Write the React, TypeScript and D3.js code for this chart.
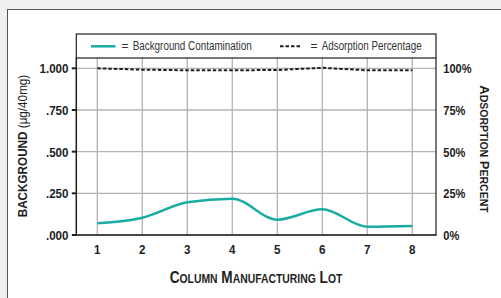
import React from "react";
import * as d3 from "d3";

const lots = [1, 2, 3, 4, 5, 6, 7, 8];
const background = [0.07, 0.104, 0.196, 0.218, 0.092, 0.154, 0.05, 0.054];
const adsorption = [100, 99.2, 98.8, 98.8, 99.0, 100.3, 98.8, 98.8];
const leftTicks = [0, 0.25, 0.5, 0.75, 1.0];
const leftTickLabels = [".000", ".250", ".500", ".750", "1.000"];
const rightTicks = [0, 25, 50, 75, 100];
const rightTickLabels = ["0%", "25%", "50%", "75%", "100%"];

const FONT = "'Liberation Sans', Arial, sans-serif";
const TEAL = "#1aaba2";
const INK = "#1e1e1e";

function CText(props: {
  x: number;
  y: number;
  sx?: number;
  rot?: number;
  anchor?: string;
  size?: number;
  bold?: boolean;
  fill?: string;
  dy?: string;
  children: React.ReactNode;
}) {
  const { x, y, sx = 0.85, rot = 0, anchor = "start", size = 12.5, bold = true, fill = INK, dy } = props;
  return (
    <text
      transform={`translate(${x},${y}) rotate(${rot}) scale(${sx},1)`}
      textAnchor={anchor}
      dy={dy}
      fontFamily={FONT}
      fontWeight={bold ? "bold" : "normal"}
      fontSize={size}
      fill={fill}
    >
      {props.children}
    </text>
  );
}

export default function App() {
  const W = 501, H = 298;
  const plotL = 76.3, plotR = 436, plotT = 58, plotB = 235;
  const x = d3.scaleLinear().domain([1, 8]).range([97.3, 412.3]);
  const yL = d3.scaleLinear().domain([0, 1]).range([plotB, 68.3]);
  const yR = d3.scaleLinear().domain([0, 100]).range([plotB, 68.3]);

  const bgLine = d3
    .line<number>()
    .x((_, i) => x(lots[i]))
    .y((d) => yL(d))
    .curve(d3.curveMonotoneX)(background) as string;
  const adsLine = d3
    .line<number>()
    .x((_, i) => x(lots[i]))
    .y((d) => yR(d))(adsorption) as string;

  return (
    <svg
      width={W}
      height={H}
      style={{ position: "absolute", left: 0, top: 0, background: "#eff0f2" }}
    >
      <rect x={7.5} y={9.5} width={W} height={H} fill="#fff" stroke="#555" strokeWidth={1} />
      {/* grid */}
      {lots.map((l) => (
        <line key={"vg" + l} x1={x(l)} x2={x(l)} y1={plotT} y2={plotB} stroke="#b4b4b4" strokeWidth={1.3} />
      ))}
      {leftTicks.map((t) => (
        <line key={"hg" + t} x1={plotL} x2={plotR} y1={yL(t)} y2={yL(t)} stroke="#b4b4b4" strokeWidth={1.3} />
      ))}
      {/* legend box */}
      <rect x={plotL} y={34} width={plotR - plotL} height={plotT - 34} fill="#fff" stroke={INK} strokeWidth={1.2} />
      <line x1={91} x2={115.5} y1={46.3} y2={46.3} stroke={TEAL} strokeWidth={2.5} />
      <text x={121.5} y={50} fontFamily={FONT} fontSize={12} fill="#333">=</text>
      <text x={132.7} y={50} fontFamily={FONT} fontSize={12.5} fill="#333" textLength={119} lengthAdjust="spacingAndGlyphs">
        Background Contamination
      </text>
      <line x1={280} x2={300} y1={46.3} y2={46.3} stroke={INK} strokeWidth={2} strokeDasharray="3.5,2" />
      <text x={310.5} y={50} fontFamily={FONT} fontSize={12} fill="#333">=</text>
      <text x={321.7} y={50} fontFamily={FONT} fontSize={12.5} fill="#333" textLength={100} lengthAdjust="spacingAndGlyphs">
        Adsorption Percentage
      </text>
      {/* plot frame */}
      <line x1={plotR} x2={plotR} y1={plotT} y2={plotB} stroke={INK} strokeWidth={1.2} />
      <line x1={plotL} x2={plotL} y1={plotT} y2={plotB + 0.75} stroke={INK} strokeWidth={1.5} />
      <line x1={plotL} x2={plotR + 0.6} y1={plotB} y2={plotB} stroke={INK} strokeWidth={1.5} />
      {/* left ticks */}
      {leftTicks.map((t, i) => (
        <g key={"lt" + t}>
          <line x1={plotL - 4.5} x2={plotL} y1={yL(t)} y2={yL(t)} stroke={INK} strokeWidth={2} />
          <CText x={68.5} y={yL(t)} dy="0.36em" anchor="end" size={13.5} sx={0.86}>
            {leftTickLabels[i]}
          </CText>
        </g>
      ))}
      {rightTicks.map((t, i) => (
        <CText key={"rt" + t} x={443.3} y={yR(t)} dy="0.36em" size={13.5} sx={0.82}>
          {rightTickLabels[i]}
        </CText>
      ))}
      {lots.map((l) => (
        <CText key={"xt" + l} x={x(l)} y={253.8} anchor="middle" size={13.5} sx={0.86}>
          {l}
        </CText>
      ))}
      {/* series */}
      <path d={adsLine} fill="none" stroke={INK} strokeWidth={2} strokeDasharray="3.5,2" />
      <path d={bgLine} fill="none" stroke={TEAL} strokeWidth={2.5} />
      {/* axis titles */}
      <CText x={256} y={283.3} anchor="middle" size={17} sx={0.8}>
        C<tspan fontSize={13}>OLUMN</tspan> M<tspan fontSize={13}>ANUFACTURING</tspan> L<tspan fontSize={13}>OT</tspan>
      </CText>
      <CText x={26.5} y={146} rot={-90} anchor="middle" size={13} sx={0.9}>
        BACKGROUND <tspan fontWeight="normal">(µg/40mg)</tspan>
      </CText>
      <CText x={479.5} y={149} rot={90} anchor="middle" size={13} sx={1.0}>
        A<tspan fontSize={10.5}>DSORPTION</tspan> P<tspan fontSize={10.5}>ERCENT</tspan>
      </CText>
    </svg>
  );
}
